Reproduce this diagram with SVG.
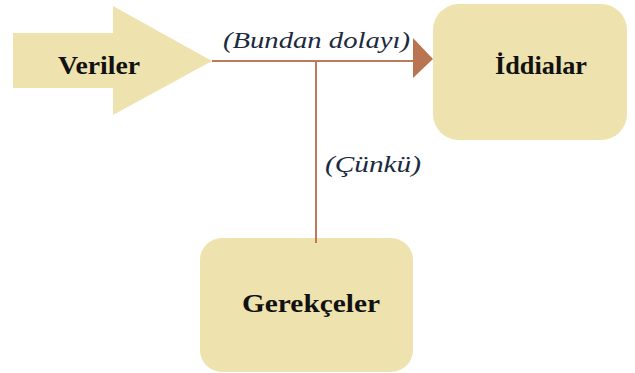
<svg xmlns="http://www.w3.org/2000/svg" width="635" height="373" viewBox="0 0 635 373">
  <defs>
    <style>
      .shape { fill: #EEE2AE; }
      .label { font-family: 'Liberation Serif', 'Times New Roman', Times, serif; font-weight: 700; font-size: 25px; fill: #111; text-anchor: middle; }
      .note { font-family: 'Liberation Serif', 'Times New Roman', Times, serif; font-style: italic; font-size: 23px; fill: #1a2a40; }
      .wire { stroke: #BE7A5C; stroke-width: 2; fill: none; }
      .head { fill: #B97452; }
    </style>
  </defs>
  <rect width="635" height="373" fill="#ffffff"/>

  <g id="veriler">
    <polygon class="shape" points="13,33 113,33 113,6 212,61 113,115 113,88 13,88"/>
    <text class="label" x="99" y="74" textLength="82" lengthAdjust="spacingAndGlyphs">Veriler</text>
  </g>

  <g id="iddialar">
    <rect class="shape" x="433" y="4" width="194" height="136" rx="26" ry="26"/>
    <text class="label" x="541" y="74" textLength="92" lengthAdjust="spacingAndGlyphs">İddialar</text>
  </g>

  <g id="gerekceler">
    <rect class="shape" x="200" y="238" width="213" height="134" rx="22" ry="22"/>
    <text class="label" x="311" y="312" textLength="138" lengthAdjust="spacingAndGlyphs">Gerekçeler</text>
  </g>

  <g id="connectors">
    <line class="wire" x1="212" y1="61" x2="414" y2="61"/>
    <polygon class="head" points="413,38 433,59 413,78"/>
    <line class="wire" x1="316" y1="61" x2="316" y2="243"/>
    <text class="note" x="223" y="48" textLength="187" lengthAdjust="spacingAndGlyphs">(Bundan dolayı)</text>
    <text class="note" x="325" y="172" textLength="96" lengthAdjust="spacingAndGlyphs">(Çünkü)</text>
  </g>
</svg>
